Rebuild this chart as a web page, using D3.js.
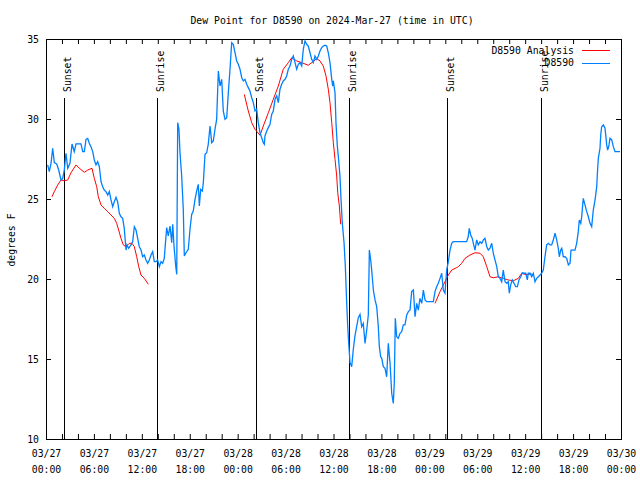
<!DOCTYPE html>
<html><head><meta charset="utf-8">
<script src="https://cdn.jsdelivr.net/npm/d3@7"></script>
<style>
body{margin:0;background:#fff}
svg{display:block}
text{font-family:"DejaVu Sans Mono","Liberation Mono",monospace;font-size:9.8px;fill:#000}
</style>
</head><body>
<svg id="chart" width="640" height="480"></svg>
<script>
const titleText = "Dew Point for D8590 on 2024-Mar-27 (time in UTC)";
const yLabelText = "degrees F";
const startTime = Date.UTC(2024, 2, 27, 0, 0);
const endTime = Date.UTC(2024, 2, 30, 0, 0);
const yTickValues = [10, 15, 20, 25, 30, 35];
const seriesNames = ["D8590 Analysis", "D8590"];
const seriesColors = ["#ff0000", "#0080ff"];
// hours after 2024-03-27 00:00 UTC
const sunEvents = [
  ["Sunset", 2.28], ["Sunrise", 13.9], ["Sunset", 26.25],
  ["Sunrise", 37.9], ["Sunset", 50.25], ["Sunrise", 61.95]
];
// [hour, dew point F]; null value = gap
const analysis = [
  [0.75,25.14],[1.04,25.46],[1.47,25.88],[1.88,26.19],[2.29,26.14],[2.72,26.19],[3.13,26.64],[3.76,27.13],
  [4.17,26.92],[4.8,26.67],[5.22,26.81],[5.76,26.92],[6.05,26.29],[6.35,25.77],[6.55,25.14],[6.89,24.63],
  [7.3,24.42],[7.73,24.21],[8.14,24.0],[8.55,23.79],[8.85,23.48],[9.1,23.06],[9.39,22.54],[9.68,22.13],
  [10.02,22.02],[10.43,22.23],[10.77,22.23],[11.06,22.02],[11.36,21.39],[11.61,20.77],[11.9,20.25],
  [12.31,20.04],[12.81,19.67],
  [18.0,null],
  [24.83,31.54],[25.33,30.5],[25.76,29.77],[26.17,29.36],[26.8,28.98],[27.21,29.56],[27.84,30.39],
  [28.46,31.23],[29.09,32.06],[29.71,33.11],[30.34,33.52],[30.77,33.83],[31.39,33.63],[32.02,33.52],
  [32.84,33.36],[33.27,33.52],[33.9,33.77],[34.31,33.63],[34.72,33.31],[35.06,32.69],[35.35,31.86],
  [35.56,31.02],[35.78,29.77],[35.98,28.52],[36.19,27.48],[36.4,26.44],[36.53,25.39],[36.73,24.56],[36.9,23.42],
  [42.0,null],
  [48.71,18.48],[49.34,19.21],[49.96,19.83],[50.38,20.25],[50.8,20.56],[51.42,20.71],[51.63,20.77],
  [52.05,20.98],[52.47,21.29],[53.09,21.5],[53.72,21.64],[54.35,21.61],[54.76,21.39],[55.19,20.77],
  [55.6,20.14],[56.01,20.08],[56.64,20.14],[57.26,20.04],[57.89,19.94],[58.52,19.89],[59.14,20.04],
  [59.57,20.36],[59.98,20.29],[60.39,20.29],[60.82,20.31],[61.02,20.21]
];
const observed = [
  [0.21,27.13],[0.41,26.71],[0.63,27.23],[0.84,28.17],[1.04,27.27],[1.34,27.19],[1.59,26.81],[1.88,26.19],[2.09,26.29],[2.29,26.81],[2.5,27.86],[2.72,26.92],[3.0,27.23],[3.26,28.44],[3.54,27.96],[3.76,28.44],[4.17,28.44],[4.38,28.44],[4.6,27.96],[4.8,27.96],[5.01,28.73],[5.22,28.79],[5.42,28.48],[5.63,28.27],[5.85,27.96],[6.05,27.44],[6.26,27.13],[6.47,27.33],[6.68,27.02],[6.89,26.08],[7.1,25.77],[7.3,25.56],[7.51,25.46],[7.73,25.25],[7.93,25.46],[8.14,24.94],[8.35,24.52],[8.55,24.83],[8.77,25.11],[8.97,24.83],[9.18,24.11],[9.39,23.89],[9.6,23.79],[9.8,23.17],[10.02,21.81],[10.14,22.13],[10.35,21.92],[10.64,22.13],[10.85,22.33],[11.06,23.27],[11.27,23.06],[11.48,22.54],[11.68,22.02],[11.9,21.81],[12.1,21.39],[12.31,21.5],[12.52,21.19],[12.73,20.98],[12.94,21.19],[13.15,21.5],[13.36,21.71],[13.56,21.08],[13.77,21.08],[13.98,21.19],[14.19,20.77],[14.4,21.08],[14.61,20.98],[14.81,21.29],[14.94,22.13],
  [15.11,23.21],[15.31,22.69],[15.53,23.31],[15.74,22.27],[15.87,23.42],[16.03,22.06],[16.24,20.81],[16.37,20.29],[16.49,29.77],[16.65,29.36],[16.78,27.89],[16.99,26.44],[17.19,24.36],[17.32,21.44],[17.53,21.64],[17.82,21.86],[18.03,23.11],[18.24,24.04],[18.44,24.25],[18.66,24.98],[18.87,25.5],[19.07,25.92],[19.2,24.56],[19.37,25.6],[19.57,25.5],[19.7,26.02],[19.91,27.79],[20.12,27.89],[20.32,28.42],[20.54,29.56],[20.75,28.52],[20.95,28.63],[21.16,29.36],[21.37,29.98],[21.58,33.0],[21.79,32.06],[22.0,32.48],[22.2,30.5],[22.41,29.98],[22.63,30.08],[22.83,31.64],[23.04,33.11],[23.25,34.77],[23.45,34.67],[23.67,34.14],[23.88,33.63],[24.08,33.42],[24.29,33.11],[24.51,32.58],[24.71,32.38],[24.92,32.48],[25.13,32.17],[25.33,31.96],[25.54,31.75],[25.76,31.33],[25.96,31.02],[26.17,30.5],[26.38,30.61],[26.58,29.77],[26.8,29.14],[27.01,28.83],[27.21,28.52],[27.34,28.42],[27.42,28.94],[27.64,29.25],[27.84,29.46],[28.05,29.67],
  [28.26,30.29],[28.46,30.5],[28.68,31.23],[28.89,31.44],[29.09,31.02],[29.3,31.86],[29.51,32.17],[29.71,32.38],[29.93,32.48],[30.14,32.69],[30.34,33.11],[30.55,33.31],[30.77,33.73],[30.97,33.94],[31.18,33.52],[31.39,33.11],[31.59,33.42],[31.81,33.52],[32.02,33.31],[32.22,34.36],[32.43,34.88],[32.64,34.67],[32.84,34.56],[33.06,34.14],[33.27,33.73],[33.47,33.52],[33.68,33.94],[33.9,33.73],[34.1,33.94],[34.31,34.25],[34.52,34.46],[34.72,34.56],[34.94,34.61],[35.15,34.56],[35.35,34.14],[35.56,33.52],[35.78,32.48],[35.9,32.06],[35.98,32.38],[36.19,31.64],[36.31,29.77],[36.48,28.31],[36.6,27.69],[36.81,26.44],[36.94,24.98],[37.1,23.52],[37.32,22.27],[37.48,20.81],[37.65,18.52],[37.78,17.06],[37.9,16.02],[38.07,14.77],[38.28,14.52],[38.48,15.61],[38.69,16.44],[38.91,17.06],[39.11,17.58],[39.32,17.79],
  [39.53,17.02],[39.73,17.23],[39.95,15.98],[40.16,16.81],[40.36,17.75],[40.49,21.81],[40.66,21.19],[40.78,20.56],[40.99,19.31],[41.2,18.69],[41.41,18.27],[41.61,17.02],[41.74,15.77],[41.91,15.14],[42.04,15.04],[42.24,14.52],[42.45,14.42],[42.66,13.89],[42.86,15.98],[43.08,14.73],[43.29,12.86],[43.49,12.23],[43.61,13.48],[43.74,17.54],[43.91,16.39],[44.11,16.29],[44.33,16.6],[44.54,16.71],[44.74,17.13],[44.95,17.13],[45.17,17.75],[45.37,17.96],[45.58,18.06],[45.79,19.21],[46.0,19.31],[46.21,17.64],[46.42,18.48],[46.62,18.06],[46.83,18.79],[47.05,18.48],[47.25,19.31],[47.46,18.69],[47.67,18.58],[48.08,18.58],[48.5,18.58],[48.71,19.21],[48.92,19.52],[49.12,19.73],[49.34,20.04],[49.55,20.36],[49.75,19.31],[49.96,19.11],[50.17,20.56],[50.38,21.08],[50.59,21.81],[50.8,22.23],[51.0,22.33],[51.42,22.33],[51.83,22.33],[52.25,22.33],[52.67,22.33],[52.87,22.64],[53.0,23.17],[53.18,22.75],[53.38,22.54],[53.51,22.23],[53.72,21.81],[53.93,22.44],[54.13,22.13],[54.35,22.33],[54.56,22.23],[54.76,22.44],[54.97,22.54],[55.19,22.02],[55.39,21.81],[55.6,21.92],[55.81,22.23],[56.01,21.61],[56.22,21.19],[56.44,20.77],[56.64,20.14],[56.85,20.04],[57.06,19.83],[57.26,20.56],[57.48,19.83],[57.69,19.73],[57.89,19.83],[58.01,19.11],[58.19,19.63],[58.39,19.94],[58.6,19.73],[58.82,19.52],[59.02,19.52],[59.23,19.94],[59.44,20.14],[59.65,20.39],[59.86,20.36],[60.07,20.36],[60.27,19.94],[60.39,20.36],[60.61,20.36],[60.82,20.14],[61.02,20.36],[61.23,19.83],[61.44,20.04],[61.65,20.14],[61.86,20.25],
  [62.07,20.36],[62.27,20.56],[62.48,21.39],[62.69,22.13],[62.9,22.23],[63.11,22.13],[63.32,22.13],[63.52,22.44],[63.74,22.86],[63.95,22.44],[64.15,21.92],[64.28,21.39],[64.45,21.81],[64.58,21.92],[64.78,21.39],[64.99,21.39],[65.2,21.29],[65.41,20.88],[65.62,20.98],[65.74,21.81],[66.03,21.81],[66.24,21.81],[66.45,22.23],[66.65,22.96],[66.78,23.69],[66.96,23.48],[67.08,23.89],[67.2,24.63],[67.28,25.04],[67.49,24.63],[67.71,24.21],[67.91,23.89],[68.12,23.48],[68.33,23.27],[68.53,24.31],[68.75,24.94],[68.96,25.77],[69.08,26.92],[69.16,27.54],[69.37,28.17],[69.46,29.0],[69.58,29.52],[69.79,29.63],[70.0,29.42],[70.21,28.38],[70.33,28.06],[70.5,28.38],[70.62,28.79],[70.84,28.69],[71.04,28.27],[71.25,27.96],[71.56,27.96],[71.87,27.96]
];

const svg = d3.select("#chart");
const L = 46, R = 621, T = 39, B = 439;
const hourMs = 3600 * 1000;
const toDate = h => new Date(startTime + h * hourMs);
const x = d3.scaleUtc().domain([new Date(startTime), new Date(endTime)]).range([L, R]);
const y = d3.scaleLinear().domain([10, 35]).range([B, T]);

// axes
const fmtD = d3.utcFormat("%m/%d"), fmtT = d3.utcFormat("%H:%M");
const xb = svg.append("g").attr("transform", `translate(0,${B})`)
  .call(d3.axisBottom(x).ticks(d3.utcHour.every(2)).tickSizeInner(-5).tickSizeOuter(0).tickFormat(""));
xb.select(".domain").remove();
xb.selectAll(".tick text").each(function(d) {
  if (d.getUTCHours() % 6 !== 0) return;
  const t = d3.select(this).attr("y", 0).attr("dy", null).attr("fill", "#000");
  t.append("tspan").attr("x", 0).attr("y", 17.5).text(fmtD(d));
  t.append("tspan").attr("x", 0).attr("y", 33.5).text(fmtT(d));
});
const xt = svg.append("g").attr("transform", `translate(0,${T})`)
  .call(d3.axisTop(x).ticks(d3.utcHour.every(2)).tickSizeInner(-5).tickSizeOuter(0).tickFormat(""));
xt.select(".domain").remove();
const yl = svg.append("g").attr("transform", `translate(${L},0)`)
  .call(d3.axisLeft(y).tickValues(yTickValues).tickSizeInner(-5).tickSizeOuter(0).tickPadding(7));
yl.select(".domain").remove();
yl.selectAll(".tick text").attr("dy", "0.35em").attr("fill", "#000");
const yr = svg.append("g").attr("transform", `translate(${R},0)`)
  .call(d3.axisRight(y).tickValues(yTickValues).tickSizeInner(-5).tickSizeOuter(0).tickFormat(""));
yr.select(".domain").remove();
svg.selectAll(".tick line").attr("stroke", "#000");
svg.selectAll("g").attr("font-family", null).attr("font-size", null);

// frame
svg.append("rect").attr("x", L + 0.5).attr("y", T + 0.5).attr("width", R - L).attr("height", B - T)
  .attr("fill", "none").attr("stroke", "#000").attr("stroke-width", 1);

// sunrise / sunset
sunEvents.forEach(([lab, h]) => {
  const px = Math.round(x(toDate(h))) + 0.5;
  svg.append("line").attr("x1", px).attr("x2", px).attr("y1", 98).attr("y2", B)
    .attr("stroke", "#000").attr("stroke-width", 1);
  svg.append("text").attr("transform", `translate(${px + 6},92) rotate(-90)`)
    .attr("text-anchor", "start").text(lab);
});

// lines
const line = d3.line().defined(d => d[1] !== null)
  .x(d => x(toDate(d[0]))).y(d => y(d[1]));
svg.append("path").datum(analysis).attr("d", line).attr("fill", "none")
  .attr("stroke", seriesColors[0]).attr("stroke-width", 1);
svg.append("path").datum(observed).attr("d", line).attr("fill", "none")
  .attr("stroke", seriesColors[1]).attr("stroke-width", 1.3);

// title & labels
svg.append("text").attr("x", 332).attr("y", 23.5).attr("text-anchor", "middle").text(titleText);
svg.append("text").attr("transform", "translate(15,240) rotate(-90)").attr("text-anchor", "middle").text(yLabelText);

// legend
seriesNames.forEach((n, i) => {
  const ly = 50 + i * 12.5;
  svg.append("text").attr("x", 574).attr("y", ly + 3.5).attr("text-anchor", "end").text(n);
  svg.append("line").attr("x1", 582).attr("x2", 610).attr("y1", Math.round(ly) + 0.5).attr("y2", Math.round(ly) + 0.5)
    .attr("stroke", seriesColors[i]).attr("stroke-width", 1);
});
</script>
</body></html>
